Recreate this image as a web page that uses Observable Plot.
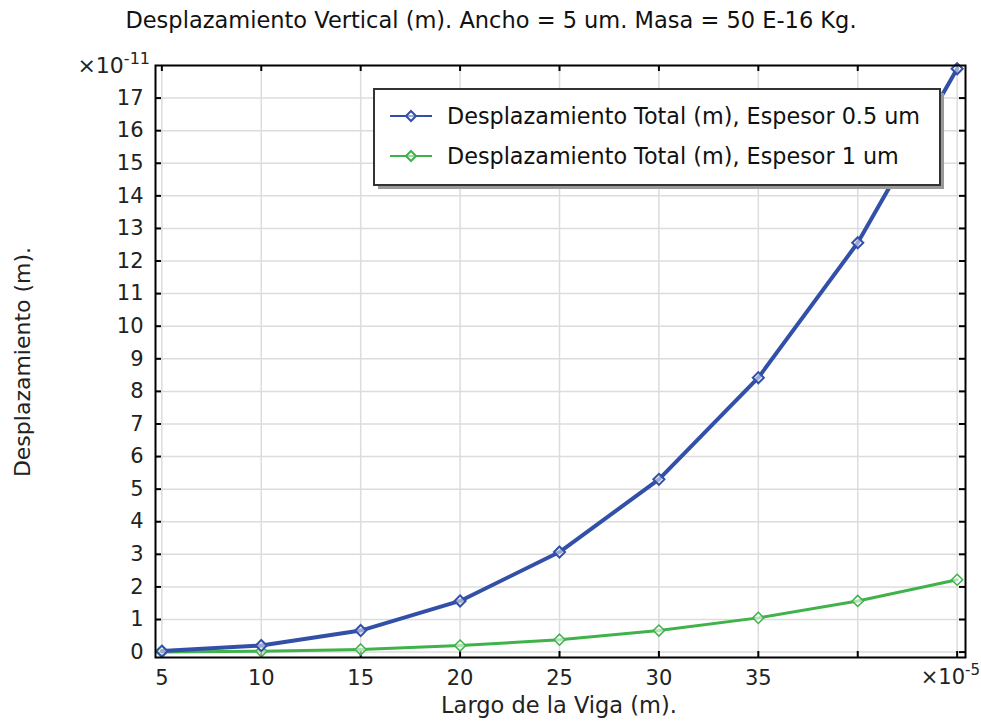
<!DOCTYPE html>
<html><head><meta charset="utf-8">
<script src="https://cdn.jsdelivr.net/npm/d3@7"></script>
<script src="https://cdn.jsdelivr.net/npm/@observablehq/plot@0.6"></script>
<style>body{margin:0;background:#fff}</style>
</head><body><div id="chart"></div>
<script>
const largo = [5, 10, 15, 20, 25, 30, 35, 40, 45];
const espesor05 = [0.03, 0.2, 0.66, 1.57, 3.07, 5.3, 8.42, 12.56, 17.9];
const espesor1 = [0.004, 0.025, 0.08, 0.2, 0.38, 0.66, 1.05, 1.57, 2.22];
const xTicks = [5, 10, 15, 20, 25, 30, 35, 40, 45];
const xLabels = ["5", "10", "15", "20", "25", "30", "35", "", ""];
const yTicks = [0,1,2,3,4,5,6,7,8,9,10,11,12,13,14,15,16,17];
const seriesNames = ["Desplazamiento Total (m), Espesor 0.5 um", "Desplazamiento Total (m), Espesor 1 um"];
const colors = ["#3350a8", "#3fb24a"];

const W = 981, H = 721, ML = 155, MR = 16, MT = 65, MB = 64;
const pw = W - ML - MR, ph = H - MT - MB;
const rows = [];
largo.forEach((l, i) => { rows.push({x: l, y: espesor05[i], s: seriesNames[0]}); });
largo.forEach((l, i) => { rows.push({x: l, y: espesor1[i], s: seriesNames[1]}); });
const font = "DejaVu Sans, sans-serif";
const tick = 6;

const chart = Plot.plot({
  width: W, height: H, marginLeft: ML, marginRight: MR, marginTop: MT, marginBottom: MB,
  style: {fontFamily: font, fontSize: "21px", color: "#222", background: "#fff"},
  x: {domain: [4.68, 45.42], label: null},
  y: {domain: [-0.166, 18.0], label: null},
  marks: [
    Plot.gridX(xTicks, {stroke: "#dcdcdc", strokeOpacity: 1, strokeWidth: 1.5}),
    Plot.gridY(yTicks, {stroke: "#dcdcdc", strokeOpacity: 1, strokeWidth: 1.5}),
    Plot.axisX(xTicks, {tickSize: 0, tickPadding: 13, tickFormat: (d, i) => xLabels[i], fontSize: 21, label: null}),
    Plot.axisY(yTicks, {tickSize: 0, tickPadding: 12, fontSize: 21, label: null}),
    Plot.tickY(yTicks, {y: d => d, insetRight: pw - tick, stroke: "black", strokeWidth: 2}),
    Plot.tickY(yTicks, {y: d => d, insetLeft: pw - tick, stroke: "black", strokeWidth: 2}),
    Plot.tickX(xTicks, {x: d => d, insetTop: ph - tick, stroke: "black", strokeWidth: 2}),
    Plot.tickX(xTicks, {x: d => d, insetBottom: ph - tick, stroke: "black", strokeWidth: 2}),
    Plot.line(rows.filter(d => d.s === seriesNames[1]), {x: "x", y: "y", stroke: colors[1], strokeWidth: 3}),
    Plot.dot(rows.filter(d => d.s === seriesNames[1]), {x: "x", y: "y", stroke: colors[1], symbol: "diamond2", r: 5, strokeWidth: 1.5, fill: "white", fillOpacity: 0.6}),
    Plot.line(rows.filter(d => d.s === seriesNames[0]), {x: "x", y: "y", stroke: colors[0], strokeWidth: 4}),
    Plot.dot(rows.filter(d => d.s === seriesNames[0]), {x: "x", y: "y", stroke: colors[0], symbol: "diamond2", r: 5, strokeWidth: 2, fill: "white", fillOpacity: 0.5}),
    Plot.frame({stroke: "black", strokeWidth: 2})
  ]
});
document.getElementById("chart").appendChild(chart);

const svg = d3.select(chart);
svg.append("text").attr("x", 491).attr("y", 28).attr("text-anchor", "middle")
  .attr("font-family", font).attr("font-size", 22.5).attr("fill", "#111")
  .text("Desplazamiento Vertical (m). Ancho = 5 um. Masa = 50 E-16 Kg.");
svg.append("text").attr("x", 559).attr("y", 713).attr("text-anchor", "middle")
  .attr("font-family", font).attr("font-size", 22.5).attr("fill", "#222")
  .text("Largo de la Viga (m).");
svg.append("text").attr("transform", "translate(30,362) rotate(-90)").attr("text-anchor", "middle")
  .attr("font-family", font).attr("font-size", 22).attr("fill", "#222")
  .text("Desplazamiento (m).");
const ey = svg.append("text").attr("x", 150).attr("y", 73).attr("text-anchor", "end")
  .attr("font-family", font).attr("font-size", 22).attr("fill", "#222");
ey.append("tspan").text("×10");
ey.append("tspan").attr("dy", -9).attr("font-size", 16).text("-11");
const ex = svg.append("text").attr("x", 980).attr("y", 684).attr("text-anchor", "end")
  .attr("font-family", font).attr("font-size", 21).attr("fill", "#222");
ex.append("tspan").text("×10");
ex.append("tspan").attr("dy", -9).attr("font-size", 15).text("-5");

// legend
const lg = svg.append("g").attr("text-anchor", "start");
lg.append("rect").attr("x", 378).attr("y", 93).attr("width", 566).attr("height", 96).attr("fill", "#999");
lg.append("rect").attr("x", 374).attr("y", 89).attr("width", 566).attr("height", 96).attr("fill", "white").attr("stroke", "#333").attr("stroke-width", 2);
seriesNames.forEach((name, i) => {
  const yy = 116 + i * 40;
  lg.append("line").attr("x1", 390).attr("x2", 432).attr("y1", yy).attr("y2", yy).attr("stroke", colors[i]).attr("stroke-width", 2);
  lg.append("path").attr("d", d3.symbol(d3.symbolDiamond2, 64)()).attr("transform", `translate(411,${yy})`)
    .attr("fill", "white").attr("fill-opacity", 0.5).attr("stroke", colors[i]).attr("stroke-width", 2);
  lg.append("text").attr("x", 447).attr("y", yy + 8).attr("text-anchor", "start").attr("font-family", font)
    .attr("font-size", 22.3).attr("fill", "#111").text(name);
});
</script></body></html>
